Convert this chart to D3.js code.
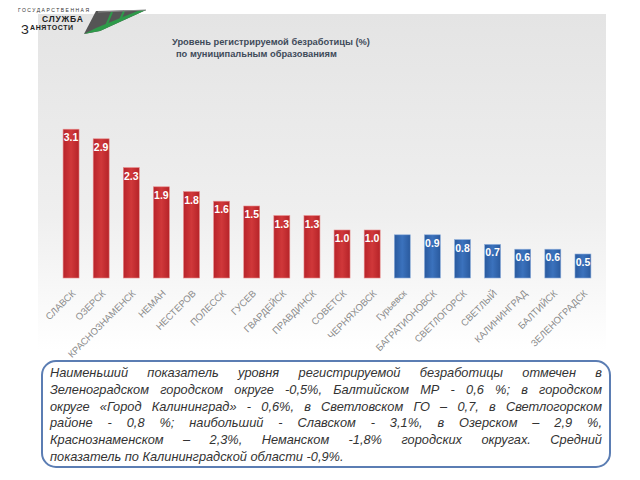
<!DOCTYPE html>
<html><head><meta charset="utf-8">
<script src="https://cdn.jsdelivr.net/npm/d3@7"></script>
<style>body{margin:0;background:#fff}svg{display:block}</style>
</head><body><svg id="c" width="640" height="480"></svg>
<script>
const categories = ["СЛАВСК","ОЗЕРСК","КРАСНОЗНАМЕНСК","НЕМАН","НЕСТЕРОВ","ПОЛЕССК","ГУСЕВ","ГВАРДЕЙСК","ПРАВДИНСК","СОВЕТСК","ЧЕРНЯХОВСК","Гурьевск","БАГРАТИОНОВСК","СВЕТЛОГОРСК","СВЕТЛЫЙ","КАЛИНИНГРАД","БАЛТИЙСК","ЗЕЛЕНОГРАДСК"];
const values = [3.1,2.9,2.3,1.9,1.8,1.6,1.5,1.3,1.3,1.0,1.0,0.9,0.9,0.8,0.7,0.6,0.6,0.5];
const valueLabels = ["3.1","2.9","2.3","1.9","1.8","1.6","1.5","1.3","1.3","1.0","1.0","","0.9","0.8","0.7","0.6","0.6","0.5"];
const groups = ["red","red","red","red","red","red","red","red","red","red","red","blue","blue","blue","blue","blue","blue","blue"];
const titleLines = ["Уровень регистрируемой безработицы (%)","по муниципальным образованиям"];
const noteLines = [
 "Наименьший показатель уровня регистрируемой безработицы отмечен в",
 "Зеленоградском городском округе -0,5%, Балтийском МР - 0,6 %; в городском",
 "округе «Город Калининград» - 0,6%, в Светловском ГО – 0,7, в Светлогорском",
 "районе - 0,8 %; наибольший - Славском - 3,1%, в  Озерском – 2,9 %,",
 "Краснознаменском – 2,3%, Неманском -1,8% городских округах. Средний",
 "показатель по Калининградской области -0,9%."
];

const svg = d3.select("#c");
const defs = svg.append("defs");
const bg = defs.append("linearGradient").attr("id","bg").attr("x1",0).attr("y1",0).attr("x2",0).attr("y2",1);
bg.append("stop").attr("offset","0%").attr("stop-color","#e4e4e4");
bg.append("stop").attr("offset","60%").attr("stop-color","#efefef");
bg.append("stop").attr("offset","100%").attr("stop-color","#ffffff");
const gr = defs.append("linearGradient").attr("id","gred").attr("x1",0).attr("x2",1).attr("y1",0).attr("y2",0);
gr.append("stop").attr("offset","0%").attr("stop-color","#b8232a");
gr.append("stop").attr("offset","50%").attr("stop-color","#d0383a");
gr.append("stop").attr("offset","100%").attr("stop-color","#b52328");
const gb = defs.append("linearGradient").attr("id","gblue").attr("x1",0).attr("x2",1).attr("y1",0).attr("y2",0);
gb.append("stop").attr("offset","0%").attr("stop-color","#2a5a9e");
gb.append("stop").attr("offset","50%").attr("stop-color","#3b72bd");
gb.append("stop").attr("offset","100%").attr("stop-color","#2a5a9e");

svg.append("rect").attr("x",38).attr("y",14).attr("width",568).attr("height",336).attr("fill","url(#bg)");

// logo
const logo = svg.append("g");
logo.append("text").attr("x",18).attr("y",12).attr("font-family","Liberation Sans, Arial").attr("font-size",5).attr("letter-spacing",1.5).attr("fill","#333").text("ГОСУДАРСТВЕННАЯ");
logo.append("text").attr("x",42).attr("y",22).attr("font-family","Liberation Sans, Arial").attr("font-weight","bold").attr("font-size",8.5).attr("letter-spacing",0.8).attr("fill","#222").text("СЛУЖБА");
logo.append("text").attr("x",21).attr("y",34).attr("font-family","Liberation Sans, Arial").attr("font-size",13).attr("fill","#222").text("З");
logo.append("text").attr("x",30).attr("y",30).attr("font-family","Liberation Sans, Arial").attr("font-weight","bold").attr("font-size",7).attr("letter-spacing",0.6).attr("fill","#222").text("АНЯТОСТИ");
logo.append("polygon").attr("points","84,34 96,11 146,10 100,31").attr("fill","#555");
logo.append("polygon").attr("points","84,34 100,31 146,10 140,10 96,28").attr("fill","#2e9a4a");
logo.append("line").attr("x1",106).attr("y1",26).attr("x2",112).attr("y2",12).attr("stroke","#2e9a4a").attr("stroke-width",2);
logo.append("line").attr("x1",120).attr("y1",20).attr("x2",124).attr("y2",11).attr("stroke","#2e9a4a").attr("stroke-width",2);
logo.append("line").attr("x1",98).attr("y1",12).attr("x2",146).attr("y2",10).attr("stroke","#888").attr("stroke-width",1);

// title
svg.append("g").selectAll("text").data(titleLines).join("text")
  .attr("x",(d,i)=> i===0?172:176).attr("y",(d,i)=>45+i*12)
  .attr("font-family","Liberation Sans, Arial").attr("font-weight","bold").attr("font-size",9.3)
  .attr("fill","#3f4b5a").text(d=>d);

// chart
const x = d3.scaleBand().domain(categories).range([56,598]).paddingInner(0.47).paddingOuter(0.235);
const y = d3.scaleLinear().domain([0,3.5]).range([278,278-3.5*48]);

svg.append("g").selectAll("rect").data(categories).join("rect")
  .attr("x",d=>x(d)).attr("width",x.bandwidth())
  .attr("y",(d,i)=>y(values[i])).attr("height",(d,i)=>y(0)-y(values[i]))
  .attr("fill",(d,i)=>groups[i]==="red"?"url(#gred)":"url(#gblue)")
  .attr("stroke",(d,i)=>groups[i]==="red"?"#e88a8a":"#8fb0dc").attr("stroke-width",0.6);

svg.append("g").selectAll("text").data(categories).join("text")
  .attr("x",d=>x(d)+x.bandwidth()/2).attr("y",(d,i)=>y(values[i])+12)
  .attr("text-anchor","middle").attr("font-family","Liberation Sans, Arial").attr("font-weight","bold")
  .attr("font-size",10.5).attr("fill","#fff").text((d,i)=>valueLabels[i]);

// x axis labels
const xAxis = d3.axisBottom(x).tickSize(0).tickPadding(0);
const ax = svg.append("g").attr("transform","translate(0,288)").call(xAxis);
ax.select(".domain").remove();
ax.selectAll("text").attr("font-family","Liberation Sans, Arial").attr("font-size",9.5).attr("fill","#8a8a8a")
  .attr("text-anchor","end").attr("dy",0).attr("y",0).attr("x",0)
  .attr("transform","translate(5,6) rotate(-45)");

// note box
svg.append("rect").attr("x",42).attr("y",361).attr("width",568).attr("height",106).attr("rx",14)
  .attr("fill","#fff").attr("stroke","#5b7db3").attr("stroke-width",2);
const left=50, right=602;
const nt = svg.append("g").selectAll("text").data(noteLines).join("text")
  .attr("x",left).attr("y",(d,i)=>377+i*16.8)
  .attr("font-family","Liberation Sans, Arial").attr("font-style","italic").attr("font-size",12.8)
  .attr("fill","#333").text(d=>d);
nt.each(function(d,i){
  if(i===noteLines.length-1) return;
  const w = this.getComputedTextLength();
  const spaces = d.trim().split(/\s+/).length-1;
  if(spaces>0) d3.select(this).attr("word-spacing", (right-left-w)/spaces);
});
</script></body></html>
